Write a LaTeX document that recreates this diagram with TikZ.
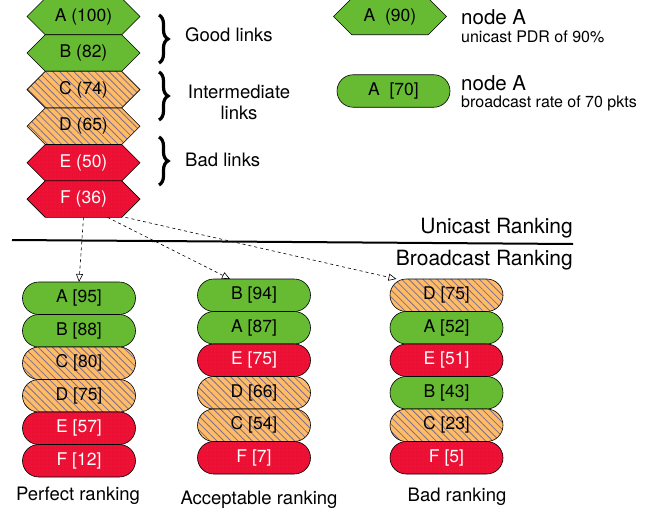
\documentclass[tikz,border=0pt]{standalone}
\usepackage{fontspec}
\setmainfont{TeX Gyre Heros}
\usetikzlibrary{shapes.misc, patterns.meta, arrows.meta, decorations.pathreplacing, positioning}

\definecolor{goodgreen}{RGB}{102,187,51}
\definecolor{midorange}{RGB}{255,187,102}
\definecolor{badred}{RGB}{236,16,52}
\definecolor{hatchgray}{RGB}{120,110,150}
\definecolor{dotgray}{RGB}{160,70,90}

\tikzset{
    hexnode/.style={chamfered rectangle, chamfered rectangle xsep=10pt, chamfered rectangle ysep=10pt, draw, line width=0.6pt, minimum width=113pt, minimum height=32.5pt, inner sep=0pt, outer sep=0pt, font=\fontsize{17.5}{20}\selectfont},
    pillnode/.style={rounded rectangle, draw, line width=0.6pt, minimum width=113pt, minimum height=32.5pt, inner sep=0pt, outer sep=0pt, font=\fontsize{17.5}{20}\selectfont},
    goodfill/.style={fill=goodgreen},
    midfill/.style={preaction={fill=midorange}, pattern={Lines[angle=-45,distance=5pt,line width=0.8pt]}, pattern color=hatchgray},
    badfill/.style={preaction={fill=badred}, pattern={Dots[distance=4pt,radius=0.6pt]}, pattern color=dotgray, text=white},
    link/.style={dashed, -{Triangle[open,length=8pt,width=7pt]}, line width=0.6pt},
    linkbrace/.style={decorate, decoration={brace,amplitude=9pt}, line width=3.2pt},
    caption/.style={inner sep=0pt, font=\fontsize{18.5}{21}\selectfont}
}

\begin{document}
\begin{tikzpicture}[x=1pt, y=-1pt]
    \useasboundingbox (0,0) rectangle (667,514);
    \node[hexnode, goodfill] (hA) at (83.5,16.5) {A (100)};
    \node[hexnode, goodfill, below=0pt of hA] (hB) {B (82)};
    \node[hexnode, midfill, below=0pt of hB] (hC) {C (74)};
    \node[hexnode, midfill, below=0pt of hC] (hD) {D (65)};
    \node[hexnode, badfill, below=0pt of hD] (hE) {E (50)};
    \node[hexnode, badfill, below=0pt of hE] (hF) {F (36)};
    \draw[linkbrace] (159,15) -- (159,63);
    \draw[linkbrace] (159,72) -- (159,120);
    \draw[linkbrace] (159,137) -- (159,185);
    \node[caption, anchor=west] (goodlbl) at (185,35) {Good links};
    \node[caption, align=center] (midlbl) at (239,102) {Intermediate\\links};
    \node[caption, anchor=west] (badlbl) at (185,160) {Bad links};
    \node[hexnode, goodfill] (keyhex) at (390,16.5) {A\ \ (90)};
    \node[anchor=west, inner sep=0pt, font=\fontsize{20.5}{24}\selectfont] (keyhexname) at (461,17) {node A};
    \node[anchor=west, inner sep=0pt, font=\fontsize{16}{19}\selectfont] (keyhexdesc) at (461,37) {unicast PDR of 90\%};
    \node[pillnode, goodfill] (keypill) at (393.5,91) {A\ \ [70]};
    \node[anchor=west, inner sep=0pt, font=\fontsize{20.5}{24}\selectfont] (keypillname) at (461,83) {node A};
    \node[anchor=west, inner sep=0pt, font=\fontsize{16}{19}\selectfont] (keypilldesc) at (461,103) {broadcast rate of 70 pkts};
    \draw[line width=2pt] (12,240) -- (573,244);
    \node[anchor=east, inner sep=0pt, font=\fontsize{21}{24}\selectfont] (unilbl) at (573,228) {Unicast Ranking};
    \node[anchor=east, inner sep=0pt, font=\fontsize{21}{24}\selectfont] (bclbl) at (573,260) {Broadcast Ranking};
    \node[pillnode, goodfill] (p1) at (79,298.25) {A [95]};
    \node[pillnode, goodfill, below=0pt of p1] (p2) {B [88]};
    \node[pillnode, midfill, below=0pt of p2] (p3) {C [80]};
    \node[pillnode, midfill, below=0pt of p3] (p4) {D [75]};
    \node[pillnode, badfill, below=0pt of p4] (p5) {E [57]};
    \node[pillnode, badfill, below=0pt of p5] (p6) {F [12]};
    \node[pillnode, goodfill] (q1) at (254,295.25) {B [94]};
    \node[pillnode, goodfill, below=0pt of q1] (q2) {A [87]};
    \node[pillnode, badfill, below=0pt of q2] (q3) {E [75]};
    \node[pillnode, midfill, below=0pt of q3] (q4) {D [66]};
    \node[pillnode, midfill, below=0pt of q4] (q5) {C [54]};
    \node[pillnode, badfill, below=0pt of q5] (q6) {F [7]};
    \node[pillnode, midfill] (r1) at (446.5,295.25) {D [75]};
    \node[pillnode, goodfill, below=0pt of r1] (r2) {A [52]};
    \node[pillnode, badfill, below=0pt of r2] (r3) {E [51]};
    \node[pillnode, goodfill, below=0pt of r3] (r4) {B [43]};
    \node[pillnode, midfill, below=0pt of r4] (r5) {C [23]};
    \node[pillnode, badfill, below=0pt of r5] (r6) {F [5]};
    \node[caption] (perfectlbl) at (78,496) {Perfect ranking};
    \node[caption] (acceptlbl) at (259,500) {Acceptable ranking};
    \node[caption] (badranklbl) at (457,497) {Bad ranking};
    \draw[link] (hF.south) -- (p1.north);
    \draw[link] ([xshift=24pt]hF.south) -- ([xshift=-24pt]q1.north);
    \draw[link] ([xshift=42pt]hF.south) -- ([xshift=-50pt]r1.north);
\end{tikzpicture}
\end{document}
